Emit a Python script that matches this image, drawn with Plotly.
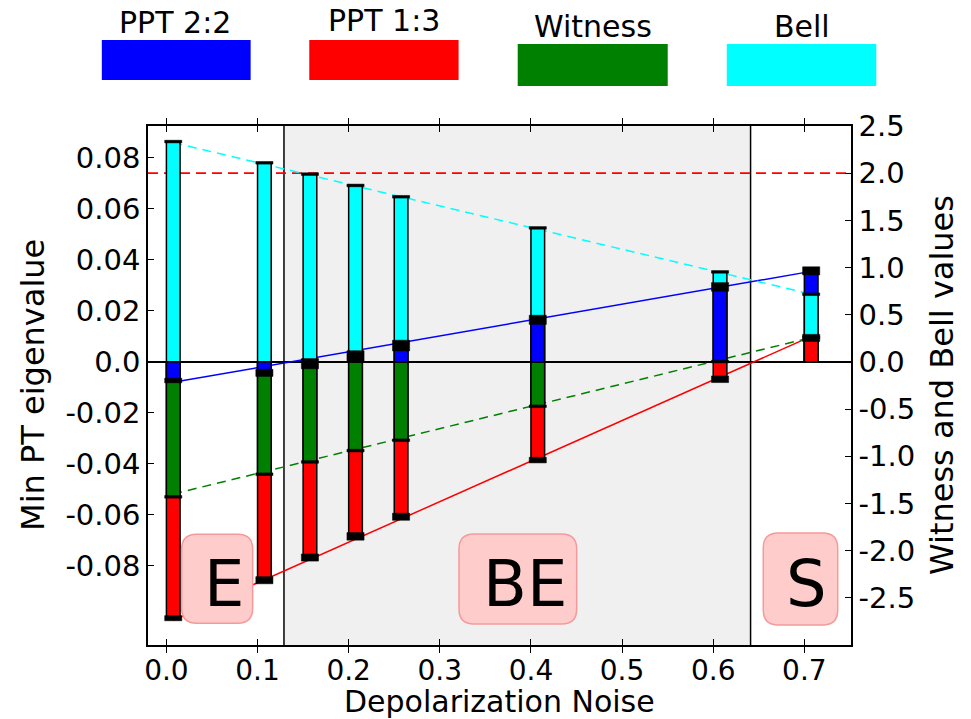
import plotly.graph_objects as go

# ---- measurements per depolarization level ----
noise = [0.0, 0.1, 0.15, 0.2, 0.25, 0.4, 0.6, 0.7]

ppt22 = [-0.0073, -0.0043, -0.0007, 0.0021, 0.0064, 0.0165, 0.0294, 0.0357]
ppt22_err = [0.0009, 0.0014, 0.0020, 0.0023, 0.0021, 0.0018, 0.0017, 0.0016]

ppt13 = [-0.1005, -0.0856, -0.0767, -0.0684, -0.0607, -0.0385, -0.0068, 0.0094]
ppt13_err = [0.0010, 0.0014, 0.0014, 0.0015, 0.0014, 0.0011, 0.0013, 0.0014]

witness = [-1.43, -1.19, -1.06, -0.94, -0.83, -0.47, 0.004, 0.262]
witness_err = [0.014, 0.014, 0.014, 0.014, 0.014, 0.014, 0.014, 0.014]

bell = [2.335, 2.11, 1.99, 1.87, 1.75, 1.42, 0.954, 0.717]
bell_err = [0.014, 0.014, 0.014, 0.014, 0.014, 0.014, 0.014, 0.014]

# ---- theoretical trends ----
fit_noise = [0.0, 0.7]
ppt22_fit = [-0.0080, 0.0355]
ppt13_fit = [-0.1013, 0.0100]
witness_fit = [-1.40, 0.258]
bell_fit = [2.324, 0.718]

bell_bound = 2.0
region_edges = [0.129, 0.641]  # entangled | bound entangled | separable

x_ticks = [0.0, 0.1, 0.2, 0.3, 0.4, 0.5, 0.6, 0.7]
x_labels = ["0.0", "0.1", "0.2", "0.3", "0.4", "0.5", "0.6", "0.7"]
y_ticks = [-0.08, -0.06, -0.04, -0.02, 0.0, 0.02, 0.04, 0.06, 0.08]
y_labels = ["-0.08", "-0.06", "-0.04", "-0.02", "0.0", "0.02", "0.04", "0.06", "0.08"]
y2_ticks = [-2.5, -2.0, -1.5, -1.0, -0.5, 0.0, 0.5, 1.0, 1.5, 2.0, 2.5]
y2_labels = ["-2.5", "-2.0", "-1.5", "-1.0", "-0.5", "0.0", "0.5", "1.0", "1.5", "2.0", "2.5"]

legend_names = ["PPT 2:2", "PPT 1:3", "Witness", "Bell"]

BLUE, RED, GREEN, CYAN = "#0000ff", "#ff0000", "#008000", "#00ffff"
FONT = "DejaVu Sans"

X_RANGE = [-0.0202, 0.7512]
Y_RANGE = [-0.111, 0.0925]
Y2_RANGE = [-3.0, 2.5]
BAR_W = 0.015
CAP_OVER = 0.0019

fig = go.Figure()

# theory lines (drawn from bar centres)
half = BAR_W / 2
fx = [v + half for v in fit_noise]
fig.add_trace(go.Scatter(x=fx, y=ppt22_fit, mode="lines", yaxis="y",
                         line=dict(color=BLUE, width=1.5), showlegend=False))
fig.add_trace(go.Scatter(x=fx, y=ppt13_fit, mode="lines", yaxis="y",
                         line=dict(color=RED, width=1.5), showlegend=False))
fig.add_trace(go.Scatter(x=fx, y=witness_fit, mode="lines", yaxis="y2",
                         line=dict(color=GREEN, width=1.5, dash="9px,6px"), showlegend=False))
fig.add_trace(go.Scatter(x=fx, y=bell_fit, mode="lines", yaxis="y2",
                         line=dict(color=CYAN, width=1.5, dash="9px,6px"), showlegend=False))

shapes = []

# background regions and their boundaries
shapes.append(dict(type="rect", xref="x", yref="paper", x0=region_edges[0], x1=region_edges[1],
                   y0=0, y1=1, fillcolor="#f0f0f0", line=dict(width=0), layer="below"))
for edge in region_edges:
    shapes.append(dict(type="line", xref="x", yref="paper", x0=edge, x1=edge, y0=0, y1=1,
                       line=dict(color="black", width=1.5), layer="below"))

# classical Bell bound
shapes.append(dict(type="line", xref="paper", yref="y2", x0=0, x1=1, y0=bell_bound, y1=bell_bound,
                   line=dict(color=RED, width=1.8, dash="10px,6px"), layer="below"))

# bars: longest drawn first so every segment stays visible
span_l = Y_RANGE[1] - Y_RANGE[0]
span_r = Y2_RANGE[1] - Y2_RANGE[0]
series = [
    (ppt22, ppt22_err, "y", BLUE, span_l),
    (ppt13, ppt13_err, "y", RED, span_l),
    (witness, witness_err, "y2", GREEN, span_r),
    (bell, bell_err, "y2", CYAN, span_r),
]
cap_shapes = []
for i, x in enumerate(noise):
    segs = sorted(series, key=lambda s: -abs(s[0][i]) / s[4])
    for vals, errs, ref, col, _ in segs:
        shapes.append(dict(type="rect", xref="x", yref=ref, x0=x, x1=x + BAR_W,
                           y0=0, y1=vals[i], fillcolor=col,
                           line=dict(color="black", width=1.5), layer="above"))
    for vals, errs, ref, col, _ in segs:
        cap_shapes.append(dict(type="rect", xref="x", yref=ref,
                               x0=x - CAP_OVER, x1=x + BAR_W + CAP_OVER,
                               y0=vals[i] - errs[i], y1=vals[i] + errs[i],
                               fillcolor="black", line=dict(color="black", width=0.5), layer="above"))
shapes.extend(cap_shapes)


def rounded_box(x0, x1, y0, y1, rx=0.0213, ry=0.0289):
    path = (f"M {x0 + rx},{y0} L {x1 - rx},{y0} Q {x1},{y0} {x1},{y0 + ry} "
            f"L {x1},{y1 - ry} Q {x1},{y1} {x1 - rx},{y1} "
            f"L {x0 + rx},{y1} Q {x0},{y1} {x0},{y1 - ry} "
            f"L {x0},{y0 + ry} Q {x0},{y0} {x0 + rx},{y0} Z")
    return dict(type="path", xref="paper", yref="paper", path=path,
                fillcolor="#ffcccc", line=dict(color="#f59a9a", width=1.5), layer="above")


region_boxes = [
    ("E", (0.0479, 0.1489, 0.0418, 0.2133), (0.1081, 0.118)),
    ("BE", (0.4424, 0.6098, 0.0405, 0.2139), (0.5363, 0.118)),
    ("S", (0.8752, 0.9811, 0.0385, 0.2158), (0.9370, 0.118)),
]
annotations = []
for label, (bx0, bx1, by0, by1), (tx, ty) in region_boxes:
    shapes.append(rounded_box(bx0, bx1, by0, by1))
    annotations.append(dict(text=label, xref="paper", yref="paper", x=tx, y=ty,
                            showarrow=False, xanchor="center", yanchor="middle",
                            font=dict(family=FONT, size=64, color="black")))

# legend swatches above the plot
swatches = [
    (BLUE, -0.0657, 0.1460, 1.0886, 1.1657, 0.0384, 1.2000),
    (RED, 0.2294, 0.4418, 1.0886, 1.1657, 0.3357, 1.2040),
    (GREEN, 0.5259, 0.7393, 1.0771, 1.1580, 0.6330, 1.1910),
    (CYAN, 0.8233, 1.0359, 1.0771, 1.1580, 0.9303, 1.1910),
]
for name, (col, sx0, sx1, sy0, sy1, lx, ly) in zip(legend_names, swatches):
    shapes.append(dict(type="rect", xref="paper", yref="paper", x0=sx0, x1=sx1, y0=sy0, y1=sy1,
                       fillcolor=col, line=dict(width=0), layer="above"))
    annotations.append(dict(text=name, xref="paper", yref="paper", x=lx, y=ly,
                            showarrow=False, xanchor="center", yanchor="middle",
                            font=dict(family=FONT, size=30, color="black")))

# axis titles
annotations.append(dict(text="Depolarization Noise", xref="paper", yref="paper", x=0.5007, y=-0.108,
                        showarrow=False, xanchor="center", yanchor="middle",
                        font=dict(family=FONT, size=30, color="black")))
annotations.append(dict(text="Min PT eigenvalue", xref="paper", yref="paper", x=-0.1636, y=0.501,
                        showarrow=False, xanchor="center", yanchor="middle", textangle=-90,
                        font=dict(family=FONT, size=32, color="black")))
annotations.append(dict(text="Witness and Bell values", xref="paper", yref="paper", x=1.1294, y=0.501,
                        showarrow=False, xanchor="center", yanchor="middle", textangle=-90,
                        font=dict(family=FONT, size=32, color="black")))

tickfont = dict(family=FONT, size=29, color="black")
xtickfont = dict(family=FONT, size=28, color="black")
fig.update_layout(
    width=971, height=719,
    margin=dict(l=148, r=120, t=126, b=74, pad=0),
    paper_bgcolor="white", plot_bgcolor="white",
    showlegend=False,
    shapes=shapes,
    annotations=annotations,
    xaxis=dict(range=X_RANGE, tickvals=x_ticks, ticktext=x_labels, ticks="inside", ticklen=6,
               tickcolor="black", tickwidth=1, showline=True, linecolor="black", linewidth=1.5,
               mirror="allticks", showgrid=False, zeroline=False, tickfont=xtickfont,
               ticklabelstandoff=0),
    yaxis=dict(range=Y_RANGE, tickvals=y_ticks, ticktext=y_labels, ticks="inside", ticklen=6,
               tickcolor="black", tickwidth=1, showline=True, linecolor="black", linewidth=1.5,
               showgrid=False, zeroline=True, zerolinecolor="black", zerolinewidth=1.5,
               tickfont=tickfont),
    yaxis2=dict(range=Y2_RANGE, tickvals=y2_ticks, ticktext=y2_labels, overlaying="y", side="right",
                ticks="inside", ticklen=6, tickcolor="black", tickwidth=1, showline=True,
                linecolor="black", linewidth=1.5, showgrid=False, zeroline=False, tickfont=tickfont),
)

fig.write_html("out.html")
